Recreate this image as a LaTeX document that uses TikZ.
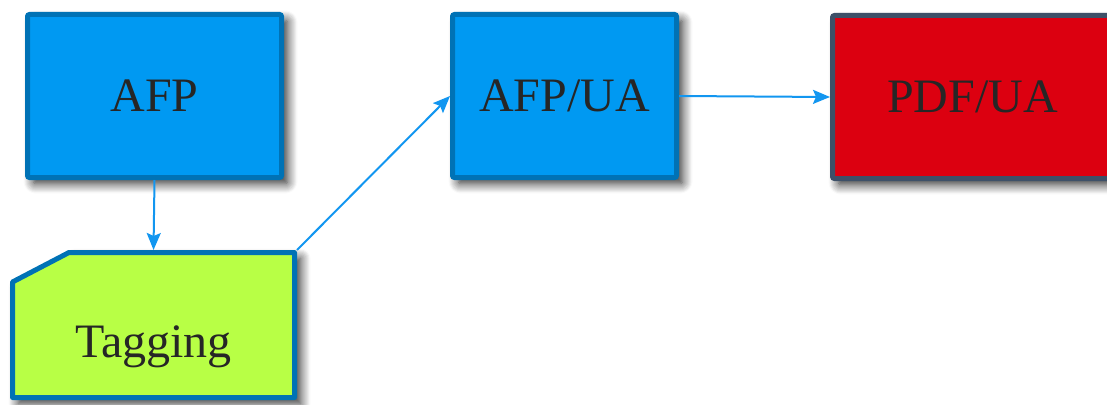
\documentclass[tikz,border=0pt]{standalone}
\usepackage{fontspec}
\setmainfont{Liberation Serif}
\usetikzlibrary{shadows.blur,arrows.meta}
\definecolor{boxblue}{HTML}{0099F2}
\definecolor{edgeblue}{HTML}{0072B5}
\definecolor{taggreen}{HTML}{B8FF45}
\definecolor{pdfred}{HTML}{DC0010}
\definecolor{pdfedge}{HTML}{3D5068}
\definecolor{arrowblue}{HTML}{1296F0}
\definecolor{txt}{HTML}{262626}
\tikzset{
  myshadow/.style={blur shadow={shadow xshift=6pt, shadow yshift=-6pt, shadow blur radius=10pt, shadow blur steps=10, shadow opacity=85}},
  box/.style={draw=edgeblue, fill=boxblue, line width=5pt, rounded corners=2pt, myshadow,
    text=txt, font=\fontsize{48}{56}\selectfont, inner sep=0pt},
  conn/.style={draw=arrowblue, line width=2pt, -{Stealth[length=17pt,width=14pt,inset=3pt]}},
  lbl/.style={text=txt, font=\fontsize{48}{56}\selectfont, inner sep=0pt}
}
\begin{document}
\begin{tikzpicture}[x=1pt,y=-1pt]
\useasboundingbox (0,0) rectangle (1107,404);
\clip (0,0) rectangle (1107,404);
\node[box, minimum width=254pt, minimum height=163pt] (afp) at (154.5,96) {AFP};
\node[box, minimum width=224pt, minimum height=163pt] (afpua) at (564.5,96) {AFP/UA};
\node[box, draw=pdfedge, fill=pdfred, minimum width=280pt, minimum height=163pt] (pdfua) at (972.5,97) {PDF/UA};
\draw[draw=edgeblue, fill=taggreen, line width=5pt, line join=round, myshadow]
  (12.5,282) -- (69,252.5) -- (294.5,252.5) -- (294.5,397.5) -- (12.5,397.5) -- cycle;
\node[minimum width=282pt, minimum height=145pt, line width=5pt, inner sep=0pt] (tag) at (153.5,325) {};
\node[lbl] (tagtext) at (153.5,347) {Tagging};
\draw[conn] (afp.south) -- (tag.north);
\draw[conn] (tag.north east) -- (afpua.west);
\draw[conn] (afpua.east) -- (pdfua.west);
\end{tikzpicture}
\end{document}
